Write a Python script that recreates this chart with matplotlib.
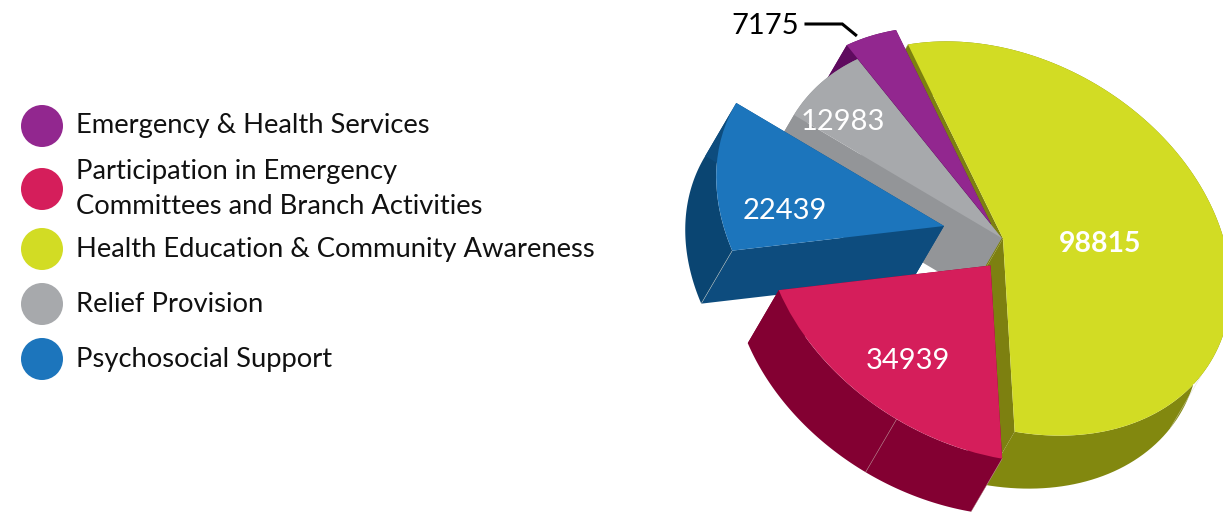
import numpy as np
import matplotlib
matplotlib.use('Agg')
import matplotlib.pyplot as plt
from matplotlib.patches import Circle, Polygon
from matplotlib.transforms import Affine2D

categories = ['Emergency & Health Services',
              'Participation in Emergency\nCommittees and Branch Activities',
              'Health Education & Community Awareness',
              'Relief Provision',
              'Psychosocial Support']
values = [7175, 34939, 98815, 12983, 22439]
value_labels = ['7175', '34939', '98815', '12983', '22439']

top_colors = ['#92278f', '#d51e5b', '#d2dc24', '#a7a9ac', '#1c75bc']
rim_colors = ['#5f0b5f', '#830032', '#82880f', '#939598', '#0a4572']
wall_colors = ['#5f0b5f', '#830032', '#7d8010', '#939598', '#0d4c7e']

# order of the slices round the pie, then the order they get painted
pie_order = [2, 1, 4, 3, 0]
paint_order = [2, 0, 3, 4, 1]

# layout, in pixels of the 1223x512 picture
apex = [(991, 224), (990.5, 265.5), (1003, 238.5), (1001.7, 238), (944, 226)]
label_pos = [(765, 26), (908, 361), (1100, 244), (843, 122), (785, 211)]
legend_y = [126, 189, 249, 304, 359]
legend_text_y = [125.5, 172, 206, 250, 305, 360]
ext = np.array([-31, 53])
U = np.array([-95, -194])
V = np.array([207, -35])
# extra folds on the rims, degrees round the pie
extra_folds = {1: [229], 2: [144]}


def project(theta, origin):
    t = np.radians(theta)
    return np.array(origin) + np.outer(np.cos(t), U) + np.outer(np.sin(t), V)


fig = plt.figure(figsize=(12.23, 5.12), dpi=100)
ax = fig.add_axes([0, 0, 1, 1])

wedges, _ = ax.pie([values[i] for i in pie_order], colors=[top_colors[i] for i in pie_order],
                   startangle=0, counterclock=True, wedgeprops={'linewidth': 0})
ax.set_aspect('auto')
ax.set_xlim(0, 1223)
ax.set_ylim(512, 0)
ax.axis('off')

for z, cat in enumerate(paint_order):
    w = wedges[pie_order.index(cat)]
    org = np.array(apex[cat])
    w.set_transform(Affine2D(np.array([[U[0], V[0], org[0]],
                                       [U[1], V[1], org[1]],
                                       [0, 0, 1]])) + ax.transData)
    w.set_zorder(z * 2 + 1.5)

    arc = project(np.linspace(w.theta1, w.theta2, 120), org)
    ax.add_patch(Polygon(np.vstack([arc, arc[::-1] + ext]), closed=True, fc=rim_colors[cat],
                         ec='none', zorder=z * 2 + 1))
    for end in (arc[0], arc[-1]):
        ax.add_patch(Polygon([org, end, end + ext, org + ext], closed=True, fc=wall_colors[cat],
                             ec='none', zorder=z * 2 + 1))
    # thin pale lines on the folds of the side faces
    for th in [w.theta1] + extra_folds.get(cat, []):
        p = project(np.array([th]), org)[0]
        if cat in (1, 2, 4):
            ax.plot([p[0], p[0] + ext[0]], [p[1], p[1] + ext[1]], color='#d8d8c8', lw=0.4,
                    alpha=0.7, zorder=z * 2 + 1.2)

ax.plot([806, 842.3, 855.7], [24, 24, 35], color='black', lw=2.2, solid_joinstyle='miter', zorder=12)

font = 'Lato'
for i, txt in enumerate(value_labels):
    col = 'black' if txt == '7175' else 'white'
    weight = 'bold' if txt == '98815' else 'normal'
    size = 20.5 if txt == '98815' else 21
    ax.text(label_pos[i][0], label_pos[i][1], txt, color=col, fontsize=size, fontweight=weight,
            family=font, ha='center', va='center', zorder=13)

text_lines = [line for cat in categories for line in cat.split('\n')]
for i, cat in enumerate(categories):
    ax.add_patch(Circle((42, legend_y[i]), 21, fc=top_colors[i], ec='none'))
for y, line in zip(legend_text_y, text_lines):
    ax.text(76, y, line, fontsize=19.7, family=font, color='#111111', va='center')

fig.savefig('out.png', dpi=100)
